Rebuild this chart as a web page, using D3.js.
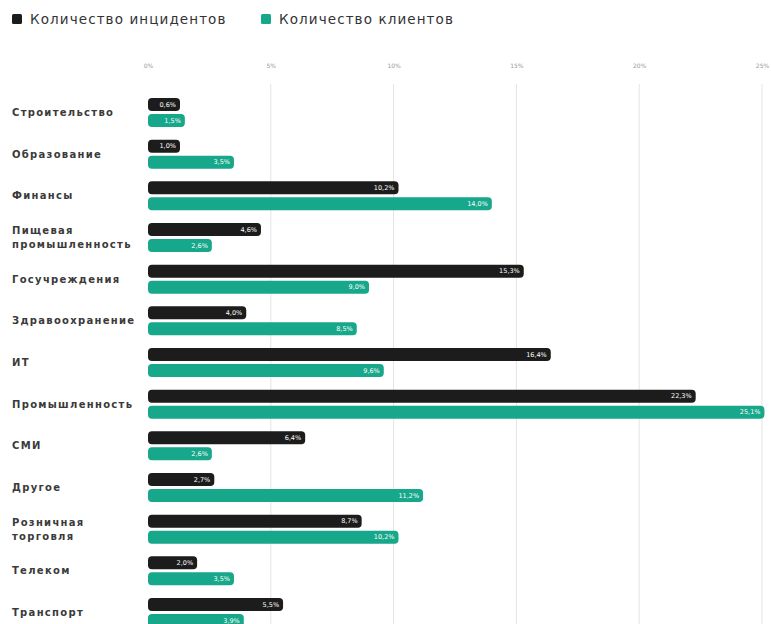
<!DOCTYPE html>
<html><head><meta charset="utf-8">
<script src="https://cdn.jsdelivr.net/npm/d3@7"></script>
<style>
html,body{margin:0;padding:0;background:#fff;}
svg{display:block;font-family:"DejaVu Sans", sans-serif;}
</style></head>
<body>
<svg id="chart" width="771" height="624"></svg>
<script>
const categories = ["Строительство","Образование","Финансы","Пищевая\nпромышленность","Госучреждения","Здравоохранение","ИТ","Промышленность","СМИ","Другое","Розничная\nторговля","Телеком","Транспорт"];
const incidents = [0.6, 1.0, 10.2, 4.6, 15.3, 4.0, 16.4, 22.3, 6.4, 2.7, 8.7, 2.0, 5.5];
const clients   = [1.5, 3.5, 14.0, 2.6, 9.0, 8.5, 9.6, 25.1, 2.6, 11.2, 10.2, 3.5, 3.9];
const tickValues = [0, 5, 10, 15, 20, 25];
const seriesNames = ["Количество инцидентов", "Количество клиентов"];
const colors = ["#1c1c1c", "#17a78a"];

const svg = d3.select("#chart");
const x = d3.scaleLinear().domain([0, 25]).range([148, 762]);
const y = d3.scaleBand().domain(categories).range([91, 91 + 41.67 * 13]).paddingInner(0).paddingOuter(0);
const barH = 13, gap = 3;
const fmt = v => d3.format(".1f")(v).replace(".", ",") + "%";

// legend
const leg = svg.append("g");
const legX = [12, 261];
seriesNames.forEach((n, i) => {
  leg.append("rect").attr("x", legX[i]).attr("y", 14).attr("width", 10).attr("height", 10).attr("rx", 1.5).attr("fill", colors[i]);
  leg.append("text").attr("x", legX[i] + 18).attr("y", 23.5).attr("font-size", 13.5).attr("letter-spacing", 1.1)
    .attr("fill", "#333").text(n);
});

// grid + axis
const axis = d3.axisTop(x).tickValues(tickValues).tickFormat(d => d + "%").tickSize(0);
const ag = svg.append("g").attr("transform", "translate(0,71)").call(axis);
ag.select(".domain").remove();
ag.selectAll("text").attr("font-size", 6).attr("fill", "#999").attr("font-family", "DejaVu Sans, sans-serif");
svg.append("g").selectAll("line").data(tickValues.slice(1)).join("line")
  .attr("x1", d => x(d)).attr("x2", d => x(d)).attr("y1", 84).attr("y2", 624)
  .attr("stroke", "#e4e4e4").attr("stroke-width", 1);

// category labels
const lab = svg.append("g");
categories.forEach(c => {
  const lines = c.split("\n");
  const cy = y(c) + y.bandwidth() / 2;
  const t = lab.append("text").attr("x", 12).attr("font-size", 10).attr("font-weight", "bold")
    .attr("letter-spacing", 1.3).attr("fill", "#3a3a3a");
  lines.forEach((l, i) => {
    t.append("tspan").attr("x", 12).attr("y", cy + 4 + (i - (lines.length - 1) / 2) * 14).text(l);
  });
});

// bars
const minW = 32;
const rows = categories.map((c, i) => ({c, vals: [incidents[i], clients[i]]}));
const g = svg.append("g");
rows.forEach(r => {
  r.vals.forEach((v, k) => {
    const top = y(r.c) + 7 + k * (barH + gap);
    const w = Math.max(x(v) - x(0), minW);
    g.append("rect").attr("x", x(0)).attr("y", top).attr("width", w).attr("height", barH)
      .attr("rx", 4).attr("fill", colors[k]);
    g.append("text").attr("x", x(0) + w - 4).attr("y", top + barH / 2 + 2.2)
      .attr("text-anchor", "end").attr("font-size", 6.5).attr("fill", "#fff").text(fmt(v));
  });
});
</script>
</body></html>
